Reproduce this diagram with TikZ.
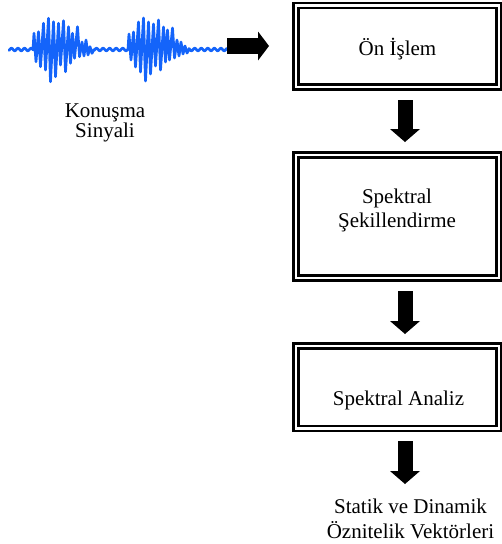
\documentclass[tikz,border=0pt]{standalone}
\usepackage{fontspec}
\setmainfont{Liberation Serif}
\usetikzlibrary{arrows.meta}
\definecolor{sigblue}{RGB}{20,100,250}
\begin{document}
\begin{tikzpicture}[x=1pt,y=-1pt,
  stagebox/.style={draw=black, line width=2.2pt, double=white, double distance=2.8pt,
                   minimum width=203pt, inner sep=0pt},
  lbl/.style={inner sep=0pt, font=\fontsize{21}{24}\selectfont},
  wave/.style={draw=sigblue, line width=2.7pt, line join=round, line cap=round},
  blockdown/.style={draw=black, line width=15pt,
                    -{Triangle[length=13pt,width=30pt,line width=0pt]}},
  blockright/.style={draw=black, line width=16pt,
                     -{Triangle[length=11pt,width=29pt,line width=0pt]}}]
\useasboundingbox (0,0) rectangle (502,544);

% speech signal
\draw[wave] plot[domain=9:33, samples=40] (\x,{49.5+1.3*sin(\x*55)})
  -- (34,33.3) -- (36,61.7) -- (38.5,31.7) -- (40.5,66.7) -- (43.5,23.3) -- (45.5,70)
  -- (48.5,18.3) -- (50.5,81.7) -- (53.5,21.7) -- (55.5,76.7) -- (58.5,23.3) -- (60.5,65)
  -- (63.5,20.7) -- (65.5,71.7) -- (68.5,26.7) -- (70.5,63.3) -- (72.5,33.3) -- (74.5,58.3)
  -- (77.5,26.7) -- (79.5,56.7) -- (82,42) -- (84,56) -- (86,40) -- (88,55) -- (90,46.7)
  -- (92,53.3) -- (94,49.5)
  -- plot[domain=94:128, samples=50] (\x,{49.5+1.3*sin(\x*55)})
  -- (129,34) -- (131,60) -- (133.5,32) -- (135.5,67) -- (138.5,22) -- (140.5,72)
  -- (143.5,18) -- (145.5,81) -- (148.5,22) -- (150.5,74) -- (153.5,24) -- (155.5,66)
  -- (158.5,20) -- (160.5,70) -- (163.5,27) -- (165.5,62) -- (167.5,30) -- (169.5,60)
  -- (172.5,28) -- (174.5,58) -- (177,40) -- (179,56) -- (181,42) -- (183,54) -- (185,46)
  -- (187,53) -- (189,49.5)
  -- plot[domain=189:227, samples=55] (\x,{49.5+1.3*sin(\x*55)});

\node[lbl, anchor=base] (sig) at (105,117)
  {\fontsize{21}{20}\selectfont\begin{tabular}[t]{@{}c@{}}Konuşma\\Sinyali\end{tabular}};

% processing stages
\node[stagebox, minimum height=81.5pt] (b1) at (397.5,46.25) {};
\node[stagebox, minimum height=123pt]  (b2) at (397.5,216.5) {};
\node[stagebox, minimum height=82.5pt] (b3) at (397.5,387.25) {};

\node[lbl, anchor=base] (t1) at (397.5,55) {Ön İşlem};
\node[lbl, anchor=base] (t2) at (397,203)
  {\begin{tabular}[t]{@{}c@{}}Spektral\\Şekillendirme\end{tabular}};
\node[lbl, anchor=base] (t3) at (398.5,405) {Spektral Analiz};
\node[lbl, anchor=base] (out) at (410.5,513)
  {\fontsize{21}{25}\selectfont\begin{tabular}[t]{@{}c@{}}Statik ve Dinamik\\Öznitelik Vektörleri\end{tabular}};

% block arrows
\coordinate (r0) at (227,46);
\coordinate (r1) at (269,46);
\coordinate (d1s) at (405,100);
\coordinate (d1e) at (405,142);
\coordinate (d2s) at (405,291);
\coordinate (d2e) at (405,334);
\coordinate (d3s) at (405,441);
\coordinate (d3e) at (405,484);
\draw[blockright] (r0) -- (r1);
\draw[blockdown] (d1s) -- (d1e);
\draw[blockdown] (d2s) -- (d2e);
\draw[blockdown] (d3s) -- (d3e);
\end{tikzpicture}
\end{document}
